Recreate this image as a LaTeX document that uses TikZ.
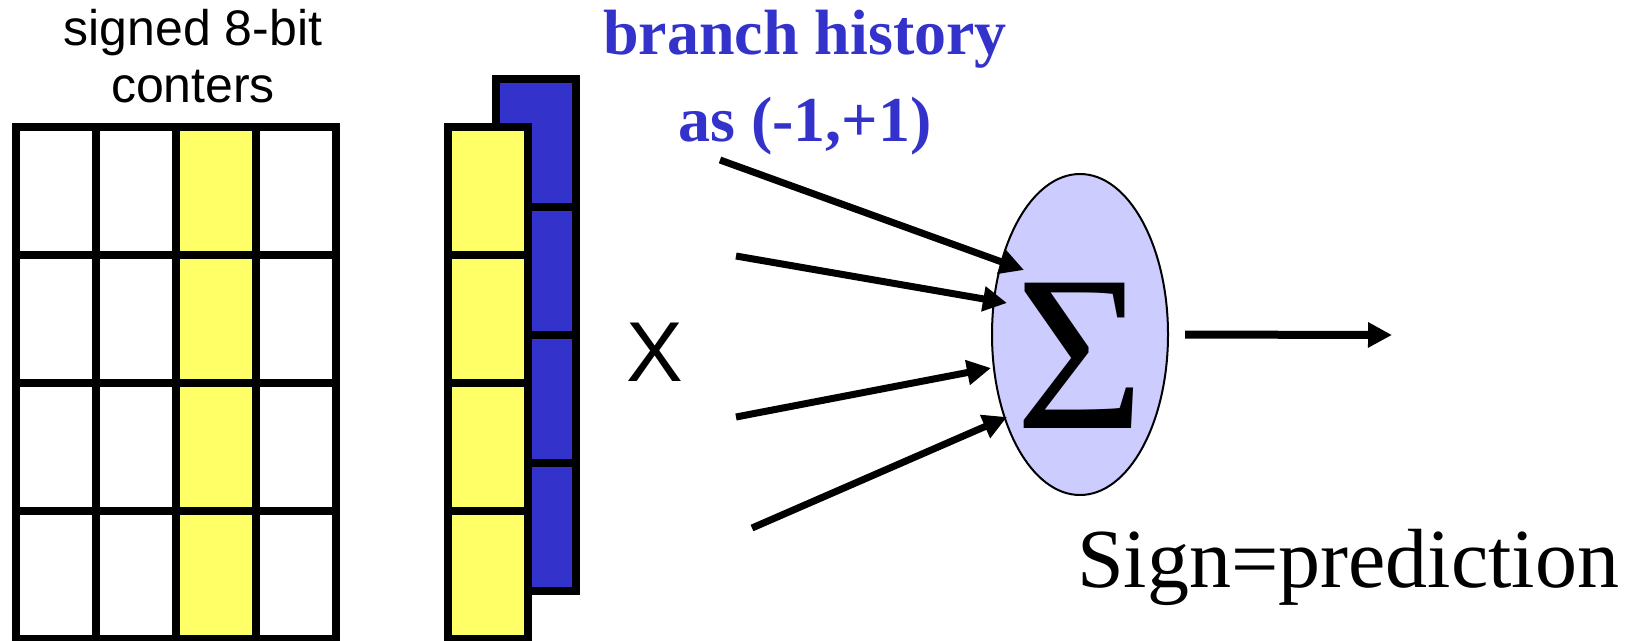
\documentclass[tikz,border=0pt]{standalone}
\usepackage{fontspec}
\setmainfont{Liberation Serif}
\setsansfont{Liberation Sans}
\usepackage{tikz}
\usetikzlibrary{arrows.meta,positioning,shapes.geometric}
\definecolor{CellYellow}{HTML}{FFFF66}
\definecolor{HistBlue}{HTML}{3333CC}
\definecolor{SumFill}{HTML}{CCCCFF}
\tikzset{
  cell/.style={draw=black, line width=8pt, rectangle, inner sep=0pt,
               minimum width=80pt, minimum height=128pt, fill=white},
  ycell/.style={cell, fill=CellYellow},
  bcell/.style={cell, fill=HistBlue},
  inarr/.style={-{Triangle[length=24pt,width=24pt]}, line width=7pt},
  outarr/.style={-{Triangle[length=24pt,width=24pt]}, line width=8pt}
}

\begin{document}
\begin{tikzpicture}[x=1pt, y=-1pt,
  sumnode/.style={draw=black, line width=2pt, ellipse, fill=SumFill, minimum width=176pt,
                  minimum height=321pt, inner sep=0pt},
  wlbl/.style={font=\sffamily\fontsize{50}{57}\selectfont, align=center, anchor=base},
  hlbl/.style={font=\bfseries\fontsize{64}{87}\selectfont, text=HistBlue, align=center, anchor=base}]
\useasboundingbox (0,0) rectangle (1643,640);
% weight table
\foreach \r in {0,...,3}
  \foreach \c/\st in {0/cell,1/cell,2/ycell,3/cell}
    \node[\st] (w-\r-\c) at (56+80*\c, 191+128*\r) {};
\node[wlbl] (wtitle) at (193,102) {signed 8-bit\\conters};
% history vector (blue behind yellow)
\foreach \r in {0,...,3}
  \node[bcell] (h-\r) at (536, 143+128*\r) {};
\foreach \r in {0,...,3}
  \node[ycell] (x-\r) at (488, 191+128*\r) {};
\node[hlbl] (htitle) at (805,141) {branch history\\as (-1,+1)};
\node[font=\sffamily\fontsize{85}{85}\selectfont, anchor=base] (times) at (655,381) {X};
% adder
\node[sumnode] (sum) at (1080,334.5) {};
\node[font=\fontsize{222}{222}\selectfont, anchor=base] (sig) at (1080,428) {Σ};
\coordinate (in1) at (720,160);  \coordinate (t1) at (1024,270);
\coordinate (in2) at (736,256);  \coordinate (t2) at (1007,303);
\coordinate (in3) at (736,417);  \coordinate (t3) at (991,368);
\coordinate (in4) at (752,528);  \coordinate (t4) at (1007,417);
\foreach \i in {1,...,4}
  \draw[inarr] (in\i) -- (t\i);
\coordinate (pred) at (1392,335);
\draw[outarr, shorten <=16pt] (sum.east) -- (pred);
\node[font=\fontsize{84}{84}\selectfont, anchor=base] (sign) at (1348,587) {Sign=prediction};
\end{tikzpicture}
\end{document}
